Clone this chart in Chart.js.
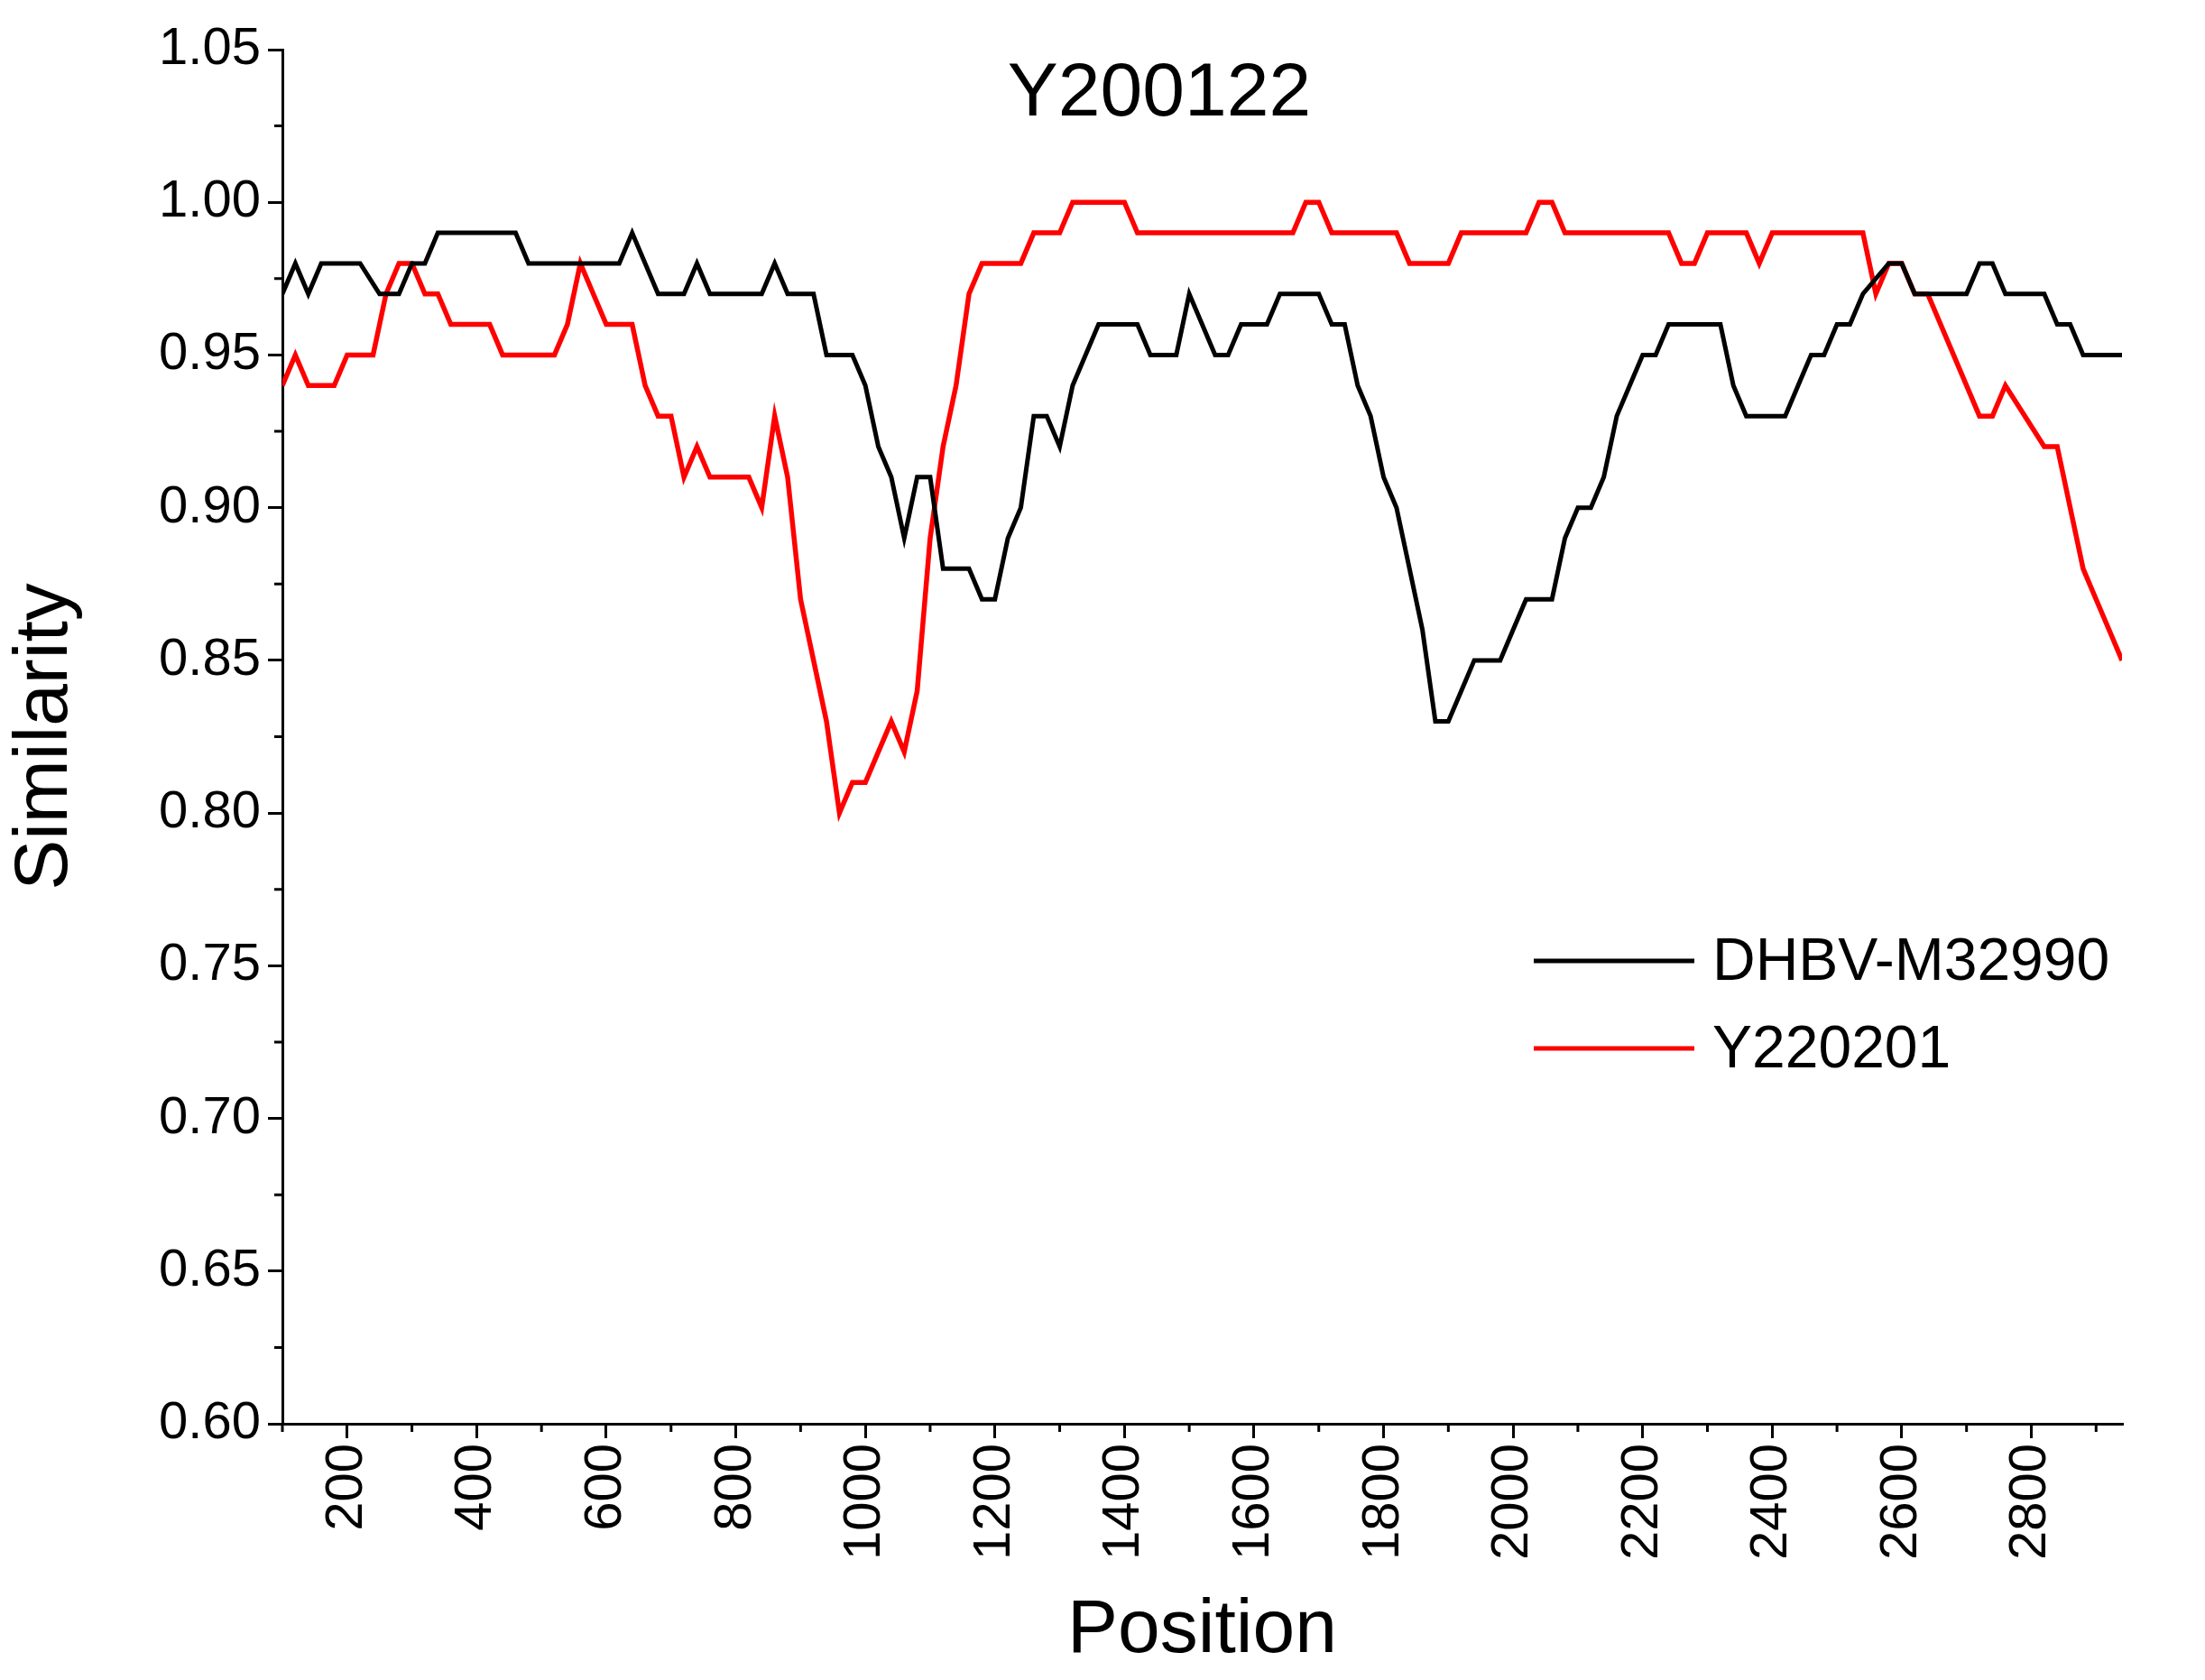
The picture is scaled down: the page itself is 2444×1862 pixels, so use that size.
<!DOCTYPE html>
<html>
<head>
<meta charset="utf-8">
<script src="https://cdn.jsdelivr.net/npm/chart.js@4/dist/chart.umd.min.js"></script>
<style>
  html, body { margin: 0; padding: 0; background: #fff; }
  #wrap { width: 2444px; height: 1862px; }
</style>
</head>
<body>
<div id="wrap"><canvas id="c" width="2444" height="1862"></canvas></div>
<script>
// valeurs (sommets des courbes)
const dhbvPos = [100,120,140,160,220,250,280,300,320,340,460,480,620,640,680,720,740,760,840,860,880,920,940,980,1000,1020,1040,1060,1080,1100,1120,1160,1180,1200,1220,1240,1260,1280,1300,1320,1360,1420,1440,1480,1500,1540,1560,1580,1620,1640,1700,1720,1740,1760,1780,1800,1820,1840,1860,1880,1900,1920,1940,1980,2000,2020,2060,2080,2100,2120,2140,2160,2180,2200,2220,2240,2320,2340,2360,2420,2440,2460,2480,2500,2520,2540,2580,2600,2620,2700,2720,2740,2760,2820,2840,2860,2880,2940];
const dhbvSim = [0.97,0.98,0.97,0.98,0.98,0.97,0.97,0.98,0.98,0.99,0.99,0.98,0.98,0.99,0.97,0.97,0.98,0.97,0.97,0.98,0.97,0.97,0.95,0.95,0.94,0.92,0.91,0.89,0.91,0.91,0.88,0.88,0.87,0.87,0.89,0.90,0.93,0.93,0.92,0.94,0.96,0.96,0.95,0.95,0.97,0.95,0.95,0.96,0.96,0.97,0.97,0.96,0.96,0.94,0.93,0.91,0.90,0.88,0.86,0.83,0.83,0.84,0.85,0.85,0.86,0.87,0.87,0.89,0.90,0.90,0.91,0.93,0.94,0.95,0.95,0.96,0.96,0.94,0.93,0.93,0.94,0.95,0.95,0.96,0.96,0.97,0.98,0.98,0.97,0.97,0.98,0.98,0.97,0.97,0.96,0.96,0.95,0.95];

const yPos = [100,120,140,180,200,240,260,280,300,320,340,360,420,440,520,540,560,580,600,640,660,680,700,720,740,760,820,840,860,880,900,920,940,960,980,1000,1020,1040,1060,1080,1100,1120,1140,1160,1180,1240,1260,1300,1320,1400,1420,1660,1680,1700,1720,1820,1840,1900,1920,2020,2040,2060,2080,2240,2260,2280,2300,2360,2380,2400,2540,2560,2580,2600,2620,2640,2720,2740,2760,2820,2840,2880,2900,2920,2940];
const ySim = [0.94,0.95,0.94,0.94,0.95,0.95,0.97,0.98,0.98,0.97,0.97,0.96,0.96,0.95,0.95,0.96,0.98,0.97,0.96,0.96,0.94,0.93,0.93,0.91,0.92,0.91,0.91,0.90,0.93,0.91,0.87,0.85,0.83,0.80,0.81,0.81,0.82,0.83,0.82,0.84,0.89,0.92,0.94,0.97,0.98,0.98,0.99,0.99,1.00,1.00,0.99,0.99,1.00,1.00,0.99,0.99,0.98,0.98,0.99,0.99,1.00,1.00,0.99,0.99,0.98,0.98,0.99,0.99,0.98,0.99,0.99,0.97,0.98,0.98,0.97,0.97,0.93,0.93,0.94,0.92,0.92,0.88,0.87,0.86,0.85];

const xTickValues = [200,400,600,800,1000,1200,1400,1600,1800,2000,2200,2400,2600,2800];

const titleText = 'Y200122';
const seriesNames = ['DHBV-M32990', 'Y220201'];
const seriesColors = ['#000000', '#ff0000'];

const FONT = "'Liberation Sans', Arial, sans-serif";

function toPoints(xs, ys) {
    return xs.map((x, i) => ({ x: x, y: ys[i] }));
}

// petits traits mineurs, titre et légende
const extras = {
    id: 'extras',
    afterDraw(chart) {
        const ctx = chart.ctx;
        const xs = chart.scales.x, ys = chart.scales.y;
        const area = chart.chartArea;
        ctx.save();
        ctx.strokeStyle = '#000';
        ctx.lineWidth = 3;
        ctx.beginPath();
        for (let v = 100; v <= 2900; v += 200) {
            const px = xs.getPixelForValue(v);
            ctx.moveTo(px, area.bottom); ctx.lineTo(px, area.bottom + 9);
        }
        for (let v = 0.625; v < 1.05; v += 0.05) {
            const py = ys.getPixelForValue(v);
            ctx.moveTo(area.left, py); ctx.lineTo(area.left - 9, py);
        }
        ctx.stroke();

        ctx.fillStyle = '#000';
        ctx.font = '84px ' + FONT;
        ctx.textAlign = 'center';
        ctx.textBaseline = 'middle';
        ctx.fillText(titleText, 1285, 105);

        ctx.font = '66px ' + FONT;
        ctx.textAlign = 'left';
        seriesNames.forEach((name, i) => {
            const y = 1065 + i * 97;
            ctx.strokeStyle = seriesColors[i];
            ctx.lineWidth = 5;
            ctx.beginPath();
            ctx.moveTo(1700, y); ctx.lineTo(1878, y);
            ctx.stroke();
            ctx.fillText(name, 1898, y + 3);
        });
        ctx.restore();
    }
};

new Chart(document.getElementById('c'), {
    type: 'line',
    data: {
        datasets: [
            { label: seriesNames[0], data: toPoints(dhbvPos, dhbvSim), borderColor: seriesColors[0], borderWidth: 5, pointRadius: 0, tension: 0 },
            { label: seriesNames[1], data: toPoints(yPos, ySim), borderColor: seriesColors[1], borderWidth: 5.5, pointRadius: 0, tension: 0 }
        ]
    },
    options: {
        responsive: false,
        animation: false,
        devicePixelRatio: 1,
        layout: { padding: { top: 55, right: 92, left: 0, bottom: 0 } },
        plugins: { legend: { display: false }, tooltip: { enabled: false } },
        scales: {
            x: {
                type: 'linear', min: 100, max: 2940,
                afterBuildTicks: s => { s.ticks = xTickValues.map(v => ({ value: v })); },
                afterFit: s => { s.height = 284; },
                ticks: { autoSkip: false, minRotation: 90, maxRotation: 90, padding: 6, color: '#000', font: { family: FONT, size: 58 }, callback: v => String(v) },
                grid: { drawOnChartArea: false, color: '#000', lineWidth: 3, tickLength: 16 },
                border: { color: '#000', width: 3 },
                title: { display: true, text: 'Position', color: '#000', font: { family: FONT, size: 84 }, padding: { top: 0, bottom: 4 } }
            },
            y: {
                min: 0.60, max: 1.05,
                afterFit: s => { s.width = 313; },
                ticks: { stepSize: 0.05, padding: 8, color: '#000', font: { family: FONT, size: 58 }, callback: v => v.toFixed(2) },
                grid: { drawOnChartArea: false, color: '#000', lineWidth: 3, tickLength: 16 },
                border: { color: '#000', width: 3 },
                title: { display: true, text: 'Similarity', color: '#000', font: { family: FONT, size: 84 }, padding: { top: 0, bottom: 6 } }
            }
        }
    },
    plugins: [extras]
});
</script>
</body>
</html>
